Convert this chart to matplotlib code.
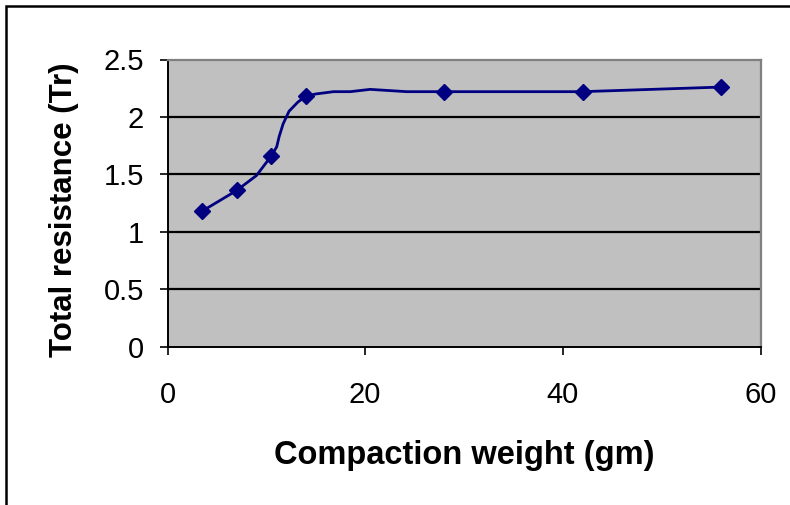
import matplotlib
matplotlib.use("Agg")
import matplotlib.pyplot as plt
from matplotlib.patches import Rectangle

# Marked data points
weight = [3.5, 7, 10.5, 14, 28, 42, 56]
resistance = [1.18, 1.36, 1.66, 2.18, 2.22, 2.22, 2.26]

# Traced line (including unmarked bends)
line_x = [3.5, 7, 9.0, 10.5, 11.05, 11.3, 11.7, 12.3, 13.2, 14, 15.0, 16.8, 18.5, 20.5, 24.2, 28, 42, 56]
line_y = [1.18, 1.36, 1.49, 1.66, 1.74, 1.83, 1.94, 2.05, 2.13, 2.18, 2.20, 2.22, 2.22, 2.24, 2.22, 2.22, 2.22, 2.26]

xticks = [0, 20, 40, 60]
yticks = [0, 0.5, 1, 1.5, 2, 2.5]
ytick_labels = ["0", "0.5", "1", "1.5", "2", "2.5"]

plt.rcParams['font.family'] = ['Liberation Sans', 'DejaVu Sans']

W, H = 790, 505
fig = plt.figure(figsize=(W / 100, H / 100), dpi=100)
ax = fig.add_axes([167.5 / W, 1 - 346.7 / H, (760.5 - 167.5) / W, (346.7 - 59.5) / H])

# Figure border (cropped at right and bottom)
fig.patches.append(Rectangle((6 / W, -0.1), 1.2, 1 - 6 / H + 0.1, transform=fig.transFigure,
                             fill=False, edgecolor='black', linewidth=1.8, zorder=0))

ax.set_facecolor('#C0C0C0')
ax.set_xlim(0, 60)
ax.set_ylim(0, 2.5)
ax.set_xticks(xticks)
ax.set_yticks(yticks)
ax.set_yticklabels(ytick_labels)

for y in yticks[1:-1]:
    ax.axhline(y, color='black', linewidth=1.6, zorder=1)

ax.plot(line_x, line_y, color='#000080', linewidth=2.0, zorder=3)
ax.plot(weight, resistance, linestyle='none', marker='D', markersize=7.8,
        color='#000080', zorder=4)

for s in ['top', 'right']:
    ax.spines[s].set_color('#808080')
    ax.spines[s].set_linewidth(1.6)
for s in ['left', 'bottom']:
    ax.spines[s].set_color('black')
    ax.spines[s].set_linewidth(1.4)

ax.tick_params(axis='x', direction='out', length=6, width=1.2, labelsize=21, pad=19)
ax.tick_params(axis='y', direction='out', length=6, width=1.2, labelsize=21, pad=11)

ax.set_xlabel('Compaction weight (gm)', fontsize=23.5, fontweight='bold', labelpad=22)
ax.set_ylabel('Total resistance (Tr)', fontsize=22.5, fontweight='bold')
ax.yaxis.set_label_coords(-(167.5 - 64) / (760.5 - 167.5), 0.478)
ax.yaxis.label.set_verticalalignment('center')

fig.savefig('out.png', dpi=100)
